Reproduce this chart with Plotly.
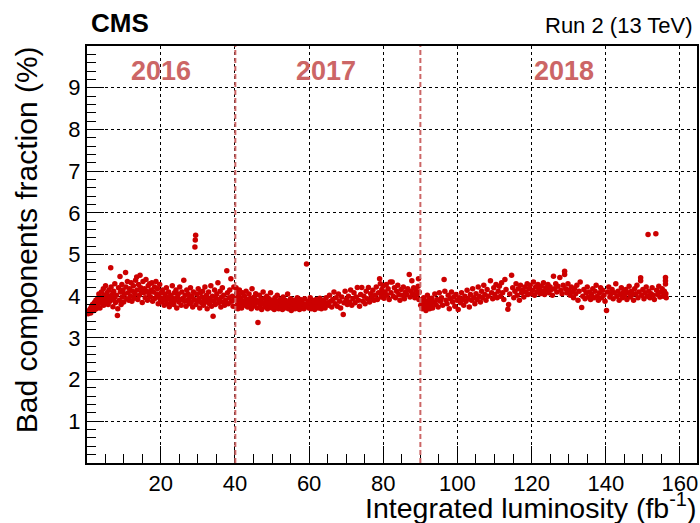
import plotly.graph_objects as go

# ---------------- data ----------------
lumi_2016 = [0.4, 0.6, 0.8, 1.0, 1.1, 1.3, 1.5, 1.6, 1.8, 2.0, 2.1, 2.3, 2.5, 2.6, 2.8, 3.0, 3.1, 3.3, 3.5, 3.6,
             3.8, 4.0, 4.1, 4.3, 4.5, 4.6, 4.8, 5.0, 5.1, 5.3, 5.5, 5.6, 5.8, 6.0, 6.1, 6.3, 6.5, 6.6, 6.8, 7.0,
             7.1, 7.3, 7.5, 7.6, 7.8, 8.0, 8.3, 8.4, 8.6, 8.8, 9.0, 9.1, 9.3, 9.5, 9.6, 9.8, 10.0, 10.2, 10.5, 10.6,
             10.8, 11.0, 11.2, 11.4, 11.6, 11.8, 12.0, 12.2, 12.4, 12.6, 12.8, 13.0, 13.2, 13.5, 13.6, 13.8, 14.0, 14.2, 14.4, 14.6,
             14.8, 15.0, 15.2, 15.4, 15.6, 15.8, 16.0, 16.2, 16.4, 16.6, 16.8, 17.0, 17.2, 17.4, 17.6, 17.8, 18.0, 18.3, 18.5, 18.7,
             18.9, 19.1, 19.3, 19.5, 19.7, 19.9, 20.1, 20.3, 20.5, 20.7, 20.9, 21.1, 21.3, 21.5, 21.7, 21.9, 22.1, 22.3, 22.5, 22.7,
             22.9, 23.1, 23.3, 23.5, 23.7, 23.9, 24.1, 24.3, 24.5, 24.7, 24.9, 25.1, 25.3, 25.5, 25.7, 26.0, 26.2, 26.4, 26.6, 26.8,
             27.0, 27.2, 27.4, 27.6, 27.8, 28.0, 28.2, 28.4, 28.6, 28.8, 29.0, 29.2, 29.3, 29.4, 29.5, 29.7, 29.9, 30.1, 30.3, 30.5,
             30.7, 30.9, 31.1, 31.3, 31.5, 31.7, 31.9, 32.1, 32.3, 32.5, 32.7, 32.9, 33.1, 33.3, 33.5, 33.7, 33.9, 34.1, 34.3, 34.5,
             34.7, 34.9, 35.1, 35.4, 35.6, 35.8, 36.0, 36.2, 36.4, 36.6, 36.8, 37.0, 37.2, 37.5, 37.8, 38.0, 38.2, 38.4, 38.6, 38.9,
             39.1, 39.3, 39.5, 39.7, 39.9]
frac_2016 = [3.58, 3.65, 3.62, 3.70, 3.60, 3.75, 3.68, 3.80, 3.72, 3.66, 3.85, 3.78, 3.90, 3.70, 3.82, 3.95, 3.76, 4.05, 3.88, 3.72,
             3.98, 4.10, 3.84, 3.92, 4.18, 3.78, 4.02, 3.90, 4.25, 3.86, 4.08, 3.95, 3.80, 4.15, 4.00, 3.88, 4.68, 4.22, 3.92, 4.05,
             3.75, 4.12, 3.96, 4.30, 3.85, 4.02, 3.54, 3.70, 4.20, 3.90, 4.47, 4.10, 3.80, 4.28, 3.98, 4.15, 3.86, 4.05, 4.57, 4.22,
             3.94, 4.35, 4.08, 3.90, 4.18, 4.00, 4.32, 3.88, 4.12, 4.25, 3.95, 4.05, 4.38, 4.46, 4.15, 3.92, 4.28, 4.02, 4.50, 4.20,
             4.10, 3.85, 4.35, 4.08, 4.18, 3.96, 4.40, 4.12, 3.90, 4.25, 4.05, 4.30, 3.98, 4.15, 4.32, 3.88, 4.10, 4.22, 3.95, 4.35,
             4.05, 4.18, 3.82, 4.00, 4.28, 3.92, 4.08, 3.86, 4.15, 3.95, 3.78, 4.05, 3.90, 4.20, 3.82, 3.98, 4.10, 3.75, 3.92, 4.02,
             3.85, 4.25, 3.95, 3.80, 4.08, 3.90, 4.15, 3.72, 3.98, 4.05, 3.86, 4.22, 3.92, 3.78, 4.10, 3.95, 4.38, 3.88, 4.02, 3.76,
             4.15, 3.90, 4.05, 3.82, 3.96, 4.20, 3.85, 4.00, 3.74, 4.10, 3.92, 5.18, 5.35, 5.46, 3.80, 4.05, 3.88, 4.18, 3.95, 3.72,
             4.08, 3.85, 3.98, 4.12, 3.78, 3.92, 4.22, 3.86, 4.02, 3.70, 3.95, 4.10, 3.82, 3.90, 4.25, 3.76, 4.00, 3.52, 3.88, 4.15,
             3.80, 3.95, 4.05, 4.32, 3.84, 3.92, 4.12, 3.74, 3.98, 4.20, 3.86, 4.02, 3.78, 3.90, 4.61, 4.08, 3.82, 3.96, 4.15, 4.42,
             3.88, 4.00, 3.76, 4.22, 3.92]

lumi_2017 = [40.3, 40.4, 40.5, 40.6, 40.7, 40.8, 40.9, 41.0, 41.2, 41.4, 41.6, 41.8, 42.0, 42.2, 42.4, 42.6, 42.8, 43.0, 43.2, 43.4,
             43.6, 43.8, 44.0, 44.2, 44.4, 44.6, 44.8, 45.0, 45.2, 45.4, 45.6, 45.8, 46.0, 46.2, 46.4, 46.6, 46.8, 47.0, 47.2, 47.4,
             47.6, 47.8, 48.0, 48.2, 48.4, 48.6, 48.8, 49.0, 49.2, 49.4, 49.6, 49.8, 50.0, 50.2, 50.4, 50.6, 50.8, 51.0, 51.2, 51.4,
             51.6, 51.8, 52.0, 52.2, 52.4, 52.6, 52.8, 53.0, 53.2, 53.4, 53.6, 53.8, 54.0, 54.2, 54.4, 54.6, 54.8, 55.0, 55.2, 55.4,
             55.6, 55.8, 56.0, 56.2, 56.4, 56.6, 56.8, 57.0, 57.2, 57.4, 57.6, 57.8, 58.0, 58.2, 58.4, 58.6, 58.8, 59.0, 59.3, 59.5,
             59.7, 59.9, 60.1, 60.3, 60.5, 60.7, 60.9, 61.1, 61.3, 61.5, 61.7, 61.9, 62.1, 62.3, 62.5, 62.7, 62.9, 63.1, 63.3, 63.5,
             63.7, 63.9, 64.1, 64.3, 64.6, 64.9, 65.2, 65.5, 65.8, 66.1, 66.4, 66.7, 67.0, 67.3, 67.6, 67.9, 68.2, 68.5, 68.8, 69.2,
             69.4, 69.7, 70.0, 70.3, 70.6, 70.9, 71.2, 71.5, 71.8, 72.1, 72.4, 72.7, 73.0, 73.3, 73.6, 73.9, 74.2, 74.5, 74.8, 75.1,
             75.4, 75.7, 76.0, 76.3, 76.6, 76.9, 77.2, 77.5, 77.8, 78.1, 78.4, 78.7, 79.0, 79.2, 79.4, 79.6, 79.8, 80.0, 80.2, 80.5,
             80.8, 81.0, 81.3, 81.6, 81.9, 82.1, 82.4, 82.7, 83.0, 83.3, 83.6, 83.9, 84.2, 84.5, 84.8, 85.1, 85.4, 85.7, 86.0, 86.3,
             86.6, 87.0, 87.2, 87.4, 87.7, 87.9, 88.2, 88.5, 88.8, 89.1, 89.4, 89.5, 89.6, 89.7]
frac_2017 = [4.20, 3.75, 3.95, 4.10, 3.85, 3.70, 4.02, 3.90, 4.15, 3.80, 3.96, 3.72, 4.08, 3.88, 3.78, 4.00, 3.84, 4.12, 3.92, 3.74,
             3.86, 4.05, 3.80, 3.95, 3.70, 4.18, 3.88, 3.76, 3.98, 3.82, 4.06, 3.90, 3.72, 3.37, 3.85, 4.02, 3.78, 3.92, 3.68, 3.84,
             4.10, 3.80, 3.95, 3.74, 3.88, 4.00, 3.70, 3.82, 3.94, 3.76, 4.08, 3.86, 3.72, 3.90, 3.80, 3.68, 3.96, 3.84, 3.75, 4.02,
             3.88, 3.70, 3.82, 3.92, 3.74, 3.86, 3.68, 3.98, 3.80, 3.72, 3.90, 3.84, 3.76, 4.05, 3.70, 3.88, 3.78, 3.94, 3.66, 3.82,
             3.74, 3.90, 3.80, 3.70, 3.86, 3.76, 3.96, 3.72, 3.84, 3.68, 3.92, 3.78, 3.88, 3.74, 3.82, 3.70, 3.94, 3.80, 4.77, 3.76,
             3.88, 3.72, 3.84, 3.96, 3.70, 3.80, 3.90, 3.74, 3.86, 3.68, 3.82, 3.92, 3.76, 3.88, 3.72, 3.80, 3.95, 3.78, 3.70, 3.86,
             3.76, 3.90, 3.82, 3.72, 3.96, 3.84, 3.78, 4.02, 3.88, 3.74, 3.92, 4.10, 3.82, 3.96, 3.76, 4.05, 3.88, 3.72, 3.98, 3.56,
             3.84, 4.12, 3.92, 3.80, 4.00, 3.86, 4.15, 3.78, 3.94, 4.08, 3.84, 3.98, 4.21, 3.90, 3.76, 4.04, 4.21, 3.88, 4.00, 3.82,
             4.12, 3.94, 4.21, 3.86, 4.06, 3.96, 4.14, 3.90, 4.02, 4.22, 3.92, 4.08, 4.42, 4.30, 3.98, 4.16, 4.05, 4.25, 3.95, 4.10,
             4.28, 4.02, 4.18, 3.92, 4.34, 4.08, 4.34, 4.00, 4.20, 3.96, 4.12, 4.26, 4.04, 3.90, 4.16, 4.02, 4.22, 3.94, 4.10, 4.04,
             4.18, 4.52, 3.98, 4.12, 4.37, 4.06, 4.20, 3.96, 4.14, 4.04, 4.24, 4.42, 3.92, 4.10]

lumi_2018 = [90.1, 90.3, 90.5, 90.7, 90.9, 91.1, 91.3, 91.5, 91.7, 91.9, 92.1, 92.3, 92.5, 92.7, 92.9, 93.1, 93.3, 93.6, 93.9, 94.2,
             94.5, 94.8, 95.1, 95.4, 95.7, 96.0, 96.4, 96.6, 96.9, 97.2, 97.5, 97.8, 98.1, 98.4, 98.7, 99.0, 99.3, 99.6, 99.9, 100.2,
             100.5, 100.8, 101.1, 101.4, 101.7, 102.0, 102.3, 102.6, 102.9, 103.2, 103.5, 103.8, 104.1, 104.4, 104.7, 105.0, 105.3, 105.6, 105.9, 106.2,
             106.5, 106.8, 107.1, 107.4, 107.7, 108.0, 108.3, 108.9, 109.2, 109.5, 109.8, 110.1, 110.4, 110.7, 111.0, 111.3, 111.6, 111.9, 112.2, 112.5,
             112.8, 113.1, 113.6, 113.8, 114.1, 114.6, 114.9, 115.2, 115.5, 115.8, 116.1, 116.4, 116.7, 117.0, 117.3, 117.6, 117.9, 118.2, 118.5, 118.8,
             119.0, 119.3, 119.6, 119.9, 120.2, 120.5, 120.8, 121.1, 121.4, 121.7, 122.0, 122.3, 122.6, 122.9, 123.2, 123.5, 123.8, 124.1, 124.4, 124.7,
             125.0, 125.3, 125.6, 125.9, 126.2, 126.5, 126.8, 127.1, 127.6, 127.9, 128.2, 128.5, 128.9, 128.9, 129.2, 129.5, 129.8, 130.1, 130.4, 130.7,
             131.0, 131.3, 131.6, 131.9, 132.2, 132.5, 132.8, 133.1, 133.5, 133.8, 134.1, 134.4, 134.7, 135.0, 135.3, 135.6, 135.9, 136.2, 136.5, 136.8,
             137.1, 137.4, 137.7, 138.0, 138.3, 138.6, 138.9, 139.2, 139.5, 139.8, 140.2, 140.5, 140.8, 141.1, 141.4, 141.7, 142.0, 142.3, 142.7, 143.0,
             143.3, 143.6, 143.9, 144.2, 144.5, 144.8, 145.1, 145.4, 145.7, 146.0, 146.3, 146.6, 146.9, 147.2, 147.5, 147.8, 148.1, 148.4, 148.7, 149.0,
             149.4, 149.4, 149.7, 150.0, 150.3, 150.6, 150.9, 151.2, 151.4, 151.6, 151.9, 152.2, 152.5, 152.8, 153.1, 153.5, 153.7, 154.0, 154.3, 154.6,
             154.9, 155.2, 155.5, 155.8, 156.1, 156.1, 156.1, 156.2, 156.3]
frac_2018 = [3.78, 3.90, 3.70, 3.84, 3.96, 3.74, 3.88, 3.66, 3.80, 4.02, 3.76, 3.92, 3.70, 3.84, 3.78, 3.95, 3.72, 3.86, 4.05, 3.80,
             3.92, 3.74, 4.08, 3.88, 3.96, 3.78, 4.40, 4.12, 3.90, 3.82, 4.02, 3.70, 3.94, 4.10, 3.86, 3.98, 3.76, 4.04, 3.90, 3.68,
             3.96, 3.84, 4.08, 3.92, 3.78, 4.00, 3.88, 4.14, 3.94, 3.74, 4.04, 3.90, 4.18, 3.96, 3.82, 4.06, 3.92, 4.22, 4.00, 3.86,
             4.12, 3.96, 4.26, 4.04, 3.90, 4.16, 4.00, 4.37, 4.08, 3.94, 4.20, 4.04, 4.28, 3.96, 4.12, 4.24, 4.00, 4.32, 4.08, 3.92,
             4.40, 4.16, 3.69, 3.80, 4.05, 4.50, 4.20, 3.96, 4.12, 4.30, 4.02, 4.18, 3.90, 4.26, 4.08, 4.14, 3.98, 4.22, 4.10, 4.30,
             4.04, 4.18, 4.26, 4.06, 4.14, 4.34, 4.02, 4.22, 4.10, 4.28, 4.16, 4.06, 4.24, 4.12, 4.32, 4.04, 4.20, 4.14, 4.28, 4.08,
             4.22, 4.16, 4.02, 4.48, 4.18, 4.30, 4.10, 4.24, 4.45, 4.14, 4.06, 4.26, 4.60, 4.52, 4.18, 4.08, 4.30, 4.14, 4.02, 4.22,
             4.10, 3.96, 4.18, 4.06, 4.26, 3.90, 4.12, 4.34, 3.73, 4.00, 4.16, 3.94, 4.08, 4.22, 3.98, 4.10, 3.92, 4.04, 4.18, 3.96,
             4.12, 4.26, 4.00, 3.90, 4.08, 4.20, 3.96, 4.14, 4.02, 3.88, 3.66, 4.10, 4.22, 3.98, 4.06, 4.16, 3.94, 4.08, 4.30, 4.00,
             4.12, 3.90, 4.04, 4.20, 3.96, 4.10, 4.02, 4.16, 3.92, 4.08, 4.24, 3.98, 4.12, 4.04, 3.90, 4.18, 4.06, 4.26, 3.96, 4.10,
             4.44, 4.37, 4.02, 4.16, 3.94, 4.08, 4.22, 4.00, 5.48, 4.12, 3.96, 4.06, 4.20, 4.02, 3.92, 5.50, 4.14, 4.04, 4.24, 3.98,
             4.10, 4.18, 4.00, 4.12, 4.45, 4.37, 4.29, 4.06, 3.96]

x_tick_values = [20, 40, 60, 80, 100, 120, 140, 160]
y_tick_values = [1, 2, 3, 4, 5, 6, 7, 8, 9]

year_labels = ["2016", "2017", "2018"]
year_label_x = [20.0, 64.5, 128.8]
year_boundaries = [40.1, 90.0]

x_title = "Integrated luminosity (fb<sup>-1</sup>)"
y_title = "Bad components fraction (%)"

# ---------------- figure ----------------
FONT = "Liberation Sans, Arial, Helvetica, sans-serif"
MARK = "#cc0000"
YEARC = "#cc6666"

fig = go.Figure()
for xs, ys in [(lumi_2016, frac_2016), (lumi_2017, frac_2017), (lumi_2018, frac_2018)]:
    fig.add_trace(go.Scatter(x=xs, y=ys, mode="markers",
                             marker=dict(color=MARK, size=5.5, line=dict(width=0)),
                             showlegend=False, hoverinfo="x+y"))

for xb in year_boundaries:
    fig.add_shape(type="line", xref="x", yref="paper", x0=xb, x1=xb, y0=0, y1=1,
                  line=dict(color=YEARC, width=2, dash="5px,3px"), layer="above")

for lab, xl in zip(year_labels, year_label_x):
    fig.add_annotation(x=xl, y=9.39, xref="x", yref="y", text="<b>%s</b>" % lab,
                       showarrow=False, font=dict(family=FONT, size=27, color=YEARC),
                       xanchor="center", yanchor="middle")

axis_common = dict(showline=True, linecolor="black", linewidth=2, mirror=True,
                   ticks="inside", tickcolor="black", tickwidth=1.2, ticklen=17,
                   showgrid=True, gridcolor="black", gridwidth=1, griddash="dot",
                   zeroline=False, automargin=False,
                   tickfont=dict(family=FONT, size=22, color="black"))

fig.update_xaxes(range=[0.1, 164.6], tickmode="array", tickvals=x_tick_values,
                 minor=dict(ticks="inside", ticklen=9, tickcolor="black", tickmode="linear",
                            dtick=5, tick0=0, showgrid=False),
                 **axis_common)
fig.update_yaxes(range=[0, 10], tickmode="array", tickvals=y_tick_values,
                 minor=dict(ticks="inside", ticklen=9, tickcolor="black", tickmode="linear",
                            dtick=0.2, tick0=0, showgrid=False),
                 **axis_common)

fig.add_annotation(xref="paper", yref="paper", x=1.002, y=-0.151, xanchor="right", yanchor="bottom",
                   text=x_title, showarrow=False, font=dict(family=FONT, size=28.5, color="black"))
fig.add_annotation(xref="paper", yref="paper", x=-0.1, y=1.003, xanchor="center", yanchor="top",
                   text=y_title, textangle=-90, showarrow=False,
                   font=dict(family=FONT, size=30, color="black"))
fig.add_annotation(xref="paper", yref="paper", x=0.004, y=1.015, xanchor="left", yanchor="bottom",
                   text="<b>CMS</b>", showarrow=False, font=dict(family=FONT, size=26, color="black"))
fig.add_annotation(xref="paper", yref="paper", x=0.997, y=1.015, xanchor="right", yanchor="bottom",
                   text="Run 2 (13 TeV)", showarrow=False, font=dict(family=FONT, size=22, color="black"))

fig.update_layout(width=700, height=523, margin=dict(l=87, r=3, t=46, b=60),
                  plot_bgcolor="white", paper_bgcolor="white", showlegend=False)

fig.write_html("out.html", config={"displayModeBar": False},
               post_script="document.body.style.margin='0px';document.body.style.overflow='hidden';")
